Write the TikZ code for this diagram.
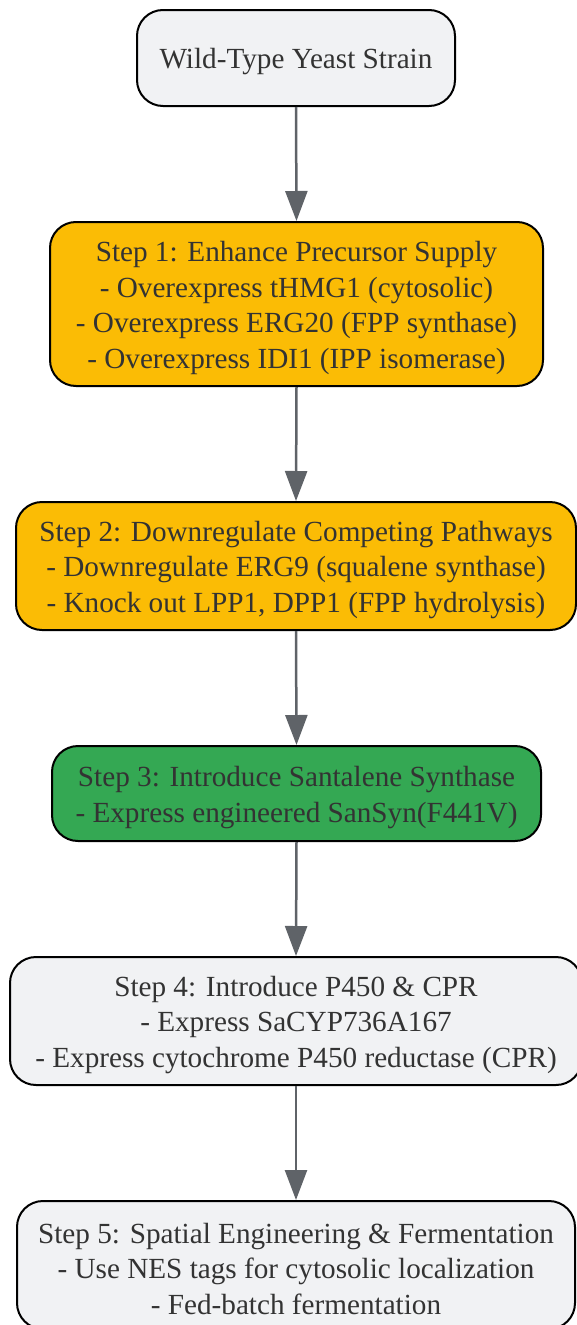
\documentclass[tikz,border=0pt]{standalone}
\usepackage{fontspec}
\setmainfont{Liberation Serif}
\usepackage{tikz}
\usetikzlibrary{arrows.meta,positioning}

\definecolor{boxgray}{HTML}{F1F2F4}
\definecolor{stepyellow}{HTML}{FBBC05}
\definecolor{stepgreen}{HTML}{34A853}
\definecolor{arrowgray}{HTML}{5F6368}
\definecolor{textdark}{HTML}{333333}

\tikzset{
  stepbox/.style={draw=black, line width=2pt, rounded corners=26pt, align=center,
    text=textdark, inner sep=0pt, font=\fontsize{29.2}{35.7}\selectfont},
  flow/.style={-{Triangle[length=30pt,width=22pt]}, draw=arrowgray, fill=arrowgray, line width=2.5pt}
}

\begin{document}
\begin{tikzpicture}[x=1pt,y=-1pt]

  \useasboundingbox (0,0) rectangle (577,1325);

  \node[stepbox, fill=boxgray, minimum width=318pt, minimum height=96pt] (wt) at (296,58)
    {\rule{0pt}{28pt}Wild-Type Yeast Strain};
  \node[stepbox, fill=stepyellow, minimum width=493pt, minimum height=164pt] (s1) at (296.5,304)
    {\rule{0pt}{28pt}Step 1: Enhance Precursor Supply\\- Overexpress tHMG1 (cytosolic)\\- Overexpress ERG20 (FPP synthase)\\- Overexpress IDI1 (IPP isomerase)};
  \node[stepbox, fill=stepyellow, minimum width=560pt, minimum height=128pt] (s2) at (296,566)
    {\rule{0pt}{28pt}Step 2: Downregulate Competing Pathways\\- Downregulate ERG9 (squalene synthase)\\- Knock out LPP1, DPP1 (FPP hydrolysis)};
  \node[stepbox, fill=stepgreen, minimum width=489pt, minimum height=95pt] (s3) at (296.5,793.5)
    {\rule{0pt}{28pt}Step 3: Introduce Santalene Synthase\\- Express engineered SanSyn(F441V)};
  \node[stepbox, fill=boxgray, minimum width=572pt, minimum height=128pt] (s4) at (296,1021)
    {\rule{0pt}{28pt}Step 4: Introduce P450 \& CPR\\- Express SaCYP736A167\\- Express cytochrome P450 reductase (CPR)};
  \node[stepbox, fill=boxgray, minimum width=558pt, minimum height=128pt] (s5) at (296,1265)
    {\rule{0pt}{28pt}Step 5: Spatial Engineering \& Fermentation\\- Use NES tags for cytosolic localization\\- Fed-batch fermentation};

  \foreach \a/\b in {wt/s1, s1/s2, s2/s3, s3/s4, s4/s5}
    \draw[flow] (\a.south) -- (\b.north);

\end{tikzpicture}
\end{document}
